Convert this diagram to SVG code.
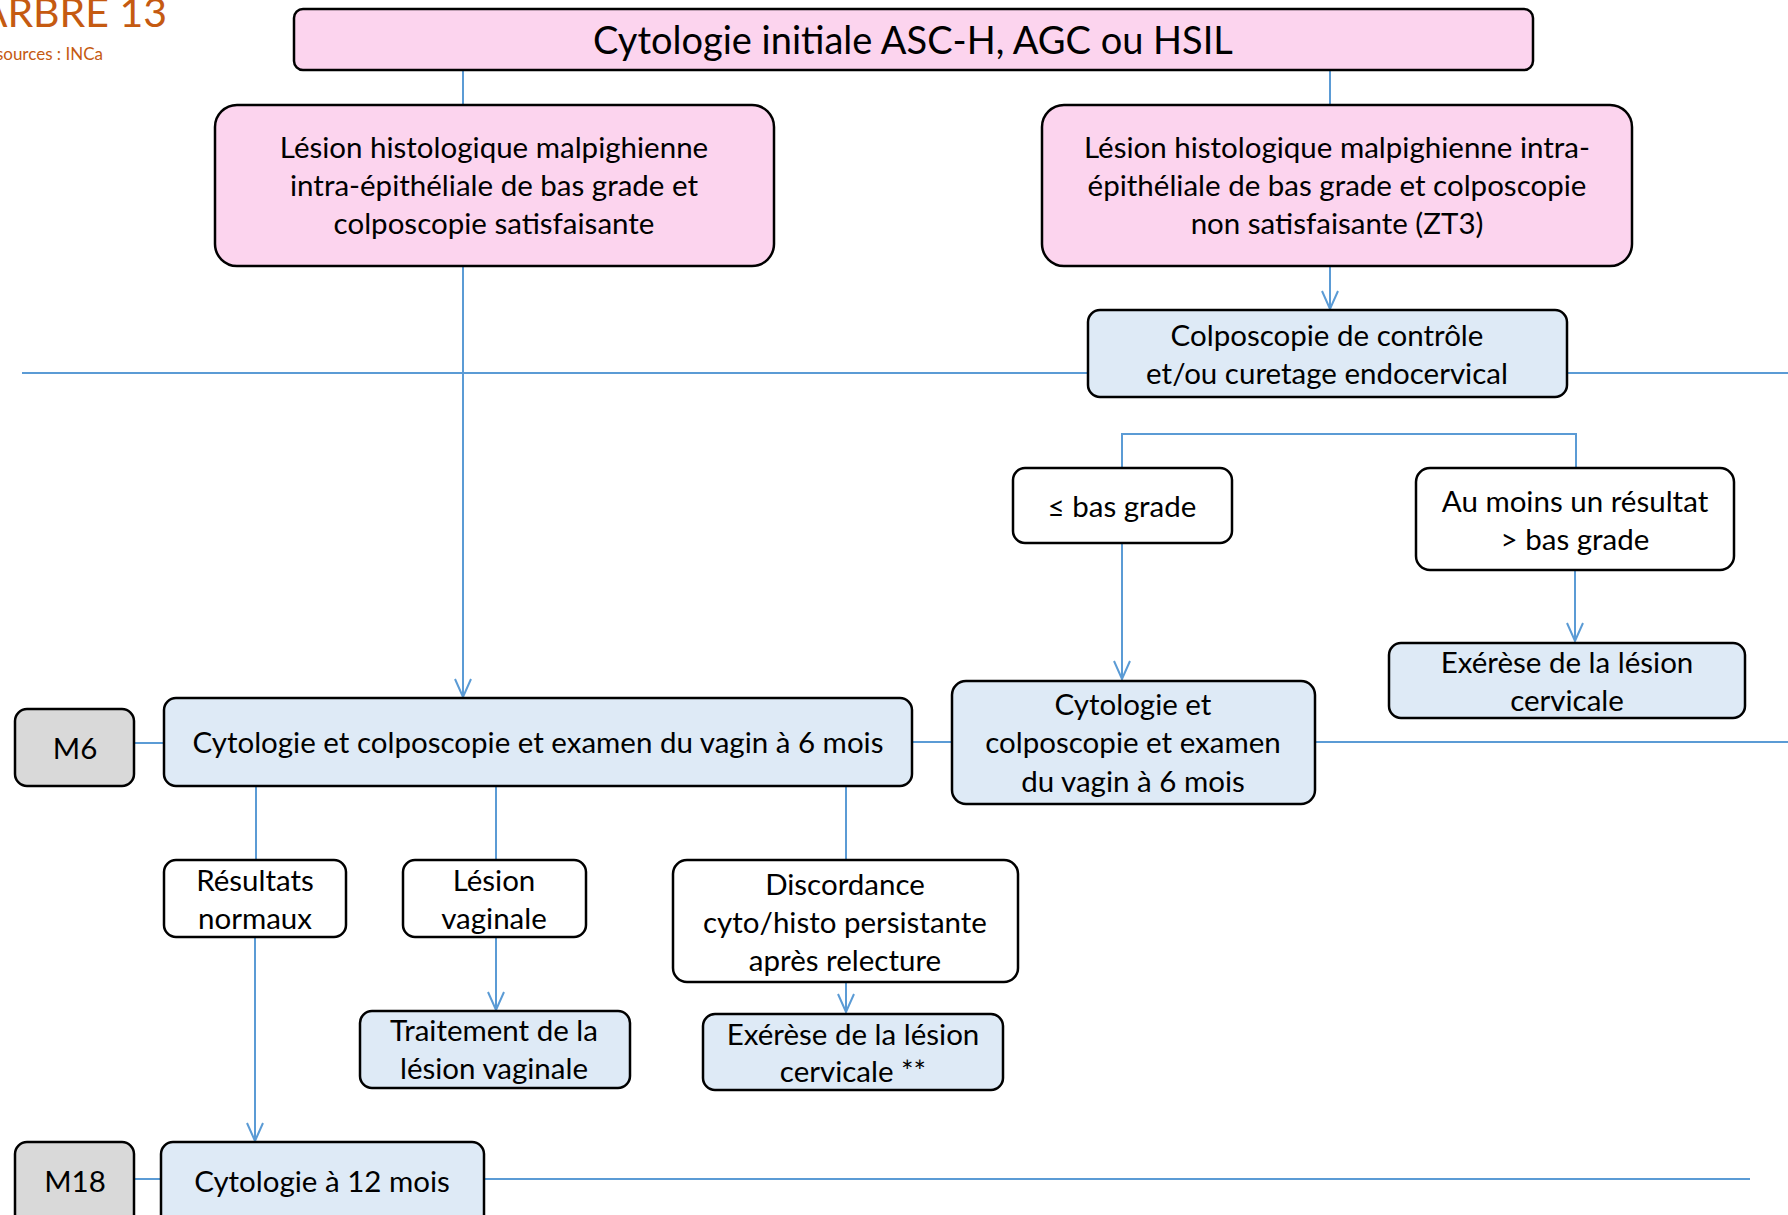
<svg xmlns="http://www.w3.org/2000/svg" width="1788" height="1215" viewBox="0 0 1788 1215">
<defs>
<style>
.t{font-family:Lato,"Open Sans","Liberation Sans",sans-serif;font-size:29.5px;fill:#000;text-anchor:middle}
.big{font-size:38px}
.pink{fill:#FCD4EE;stroke:#000;stroke-width:2.5}
.blue{fill:#DEEAF6;stroke:#000;stroke-width:2.5}
.white{fill:#fff;stroke:#000;stroke-width:2.5}
.gray{fill:#D9D9D9;stroke:#000;stroke-width:2.5}
.c{fill:none;stroke:#5B9BD5;stroke-width:2}
.hd{font-family:Lato,"Open Sans","Liberation Sans",sans-serif;fill:#C55A11;text-anchor:end}
</style>
<marker id="arr" markerUnits="userSpaceOnUse" viewBox="-20 -10 22 20" markerWidth="22" markerHeight="20" refX="0" refY="0" orient="auto">
<path d="M-18,-8 L0,0 L-18,8" fill="none" stroke="#5B9BD5" stroke-width="2"/>
</marker>
</defs>
<rect width="1788" height="1215" fill="#fff"/>
<g id="header">
<text class="hd" x="167" y="27" font-size="41">ARBRE 13</text>
<text class="hd" x="103" y="60" font-size="17">sources : INCa</text>
</g>
<g id="connectors">
<path class="c" d="M463,70 V105"/>
<path class="c" d="M1330,70 V105"/>
<path class="c" d="M463,266 V697" marker-end="url(#arr)"/>
<path class="c" d="M1330,266 V309" marker-end="url(#arr)"/>
<path class="c" d="M22,373 H1088 M1567,373 H1788"/>
<path class="c" d="M1122,468 V434 H1576 V468"/>
<path class="c" d="M1122,543 V679" marker-end="url(#arr)"/>
<path class="c" d="M1575,570 V641" marker-end="url(#arr)"/>
<path class="c" d="M134,743 H164 M912,742 H952 M1315,742 H1788"/>
<path class="c" d="M256,786 V860 M496,786 V860 M846,786 V860"/>
<path class="c" d="M496,937 V1010" marker-end="url(#arr)"/>
<path class="c" d="M846,982 V1012" marker-end="url(#arr)"/>
<path class="c" d="M255,937 V1141" marker-end="url(#arr)"/>
<path class="c" d="M134,1179 H161 M484,1179 H1750"/>
</g>
<g id="n-top">
<rect class="pink" x="294" y="9" width="1239" height="61" rx="9"/>
<text class="t big" x="913" y="54">Cytologie initiale ASC-H, AGC ou HSIL</text>
</g>
<g id="n-left">
<rect class="pink" x="215" y="105" width="559" height="161" rx="22"/>
<text class="t" x="494" y="158">Lésion histologique malpighienne</text>
<text class="t" x="494" y="196">intra-épithéliale de bas grade et</text>
<text class="t" x="494" y="234">colposcopie satisfaisante</text>
</g>
<g id="n-right">
<rect class="pink" x="1042" y="105" width="590" height="161" rx="22"/>
<text class="t" x="1337" y="158">Lésion histologique malpighienne intra-</text>
<text class="t" x="1337" y="196">épithéliale de bas grade et colposcopie</text>
<text class="t" x="1337" y="234">non satisfaisante (ZT3)</text>
</g>
<g id="n-colpo">
<rect class="blue" x="1088" y="310" width="479" height="87" rx="12"/>
<text class="t" x="1327" y="346">Colposcopie de contrôle</text>
<text class="t" x="1327" y="384">et/ou curetage endocervical</text>
</g>
<g id="n-bas">
<rect class="white" x="1013" y="468" width="219" height="75" rx="12"/>
<text class="t" x="1122" y="517">≤ bas grade</text>
</g>
<g id="n-aumoins">
<rect class="white" x="1416" y="468" width="318" height="102" rx="14"/>
<text class="t" x="1575" y="512">Au moins un résultat</text>
<text class="t" x="1575" y="550">&gt; bas grade</text>
</g>
<g id="n-exerese1">
<rect class="blue" x="1389" y="643" width="356" height="75" rx="12"/>
<text class="t" x="1567" y="673">Exérèse de la lésion</text>
<text class="t" x="1567" y="711">cervicale</text>
</g>
<g id="n-cyto2">
<rect class="blue" x="952" y="681" width="363" height="123" rx="14"/>
<text class="t" x="1133" y="715">Cytologie et</text>
<text class="t" x="1133" y="753">colposcopie et examen</text>
<text class="t" x="1133" y="792">du vagin à 6 mois</text>
</g>
<g id="n-m6">
<rect class="gray" x="15" y="709" width="119" height="77" rx="12"/>
<text class="t" x="75" y="759">M6</text>
</g>
<g id="n-main">
<rect class="blue" x="164" y="698" width="748" height="88" rx="12"/>
<text class="t" x="538" y="753">Cytologie et colposcopie et examen du vagin à 6 mois</text>
</g>
<g id="n-normaux">
<rect class="white" x="164" y="860" width="182" height="77" rx="12"/>
<text class="t" x="255" y="891">Résultats</text>
<text class="t" x="255" y="929">normaux</text>
</g>
<g id="n-vaginale">
<rect class="white" x="403" y="860" width="183" height="77" rx="12"/>
<text class="t" x="494" y="891">Lésion</text>
<text class="t" x="494" y="929">vaginale</text>
</g>
<g id="n-discordance">
<rect class="white" x="673" y="860" width="345" height="122" rx="14"/>
<text class="t" x="845" y="895">Discordance</text>
<text class="t" x="845" y="933">cyto/histo persistante</text>
<text class="t" x="845" y="971">après relecture</text>
</g>
<g id="n-traitement">
<rect class="blue" x="360" y="1011" width="270" height="77" rx="12"/>
<text class="t" x="494" y="1041">Traitement de la</text>
<text class="t" x="494" y="1079">lésion vaginale</text>
</g>
<g id="n-exerese2">
<rect class="blue" x="703" y="1014" width="300" height="76" rx="12"/>
<text class="t" x="853" y="1045">Exérèse de la lésion</text>
<text class="t" x="853" y="1082">cervicale **</text>
</g>
<g id="n-m18">
<rect class="gray" x="15" y="1142" width="119" height="90" rx="12"/>
<text class="t" x="75" y="1192">M18</text>
</g>
<g id="n-cyto12">
<rect class="blue" x="161" y="1142" width="323" height="90" rx="12"/>
<text class="t" x="322" y="1192">Cytologie à 12 mois</text>
</g>
</svg>
